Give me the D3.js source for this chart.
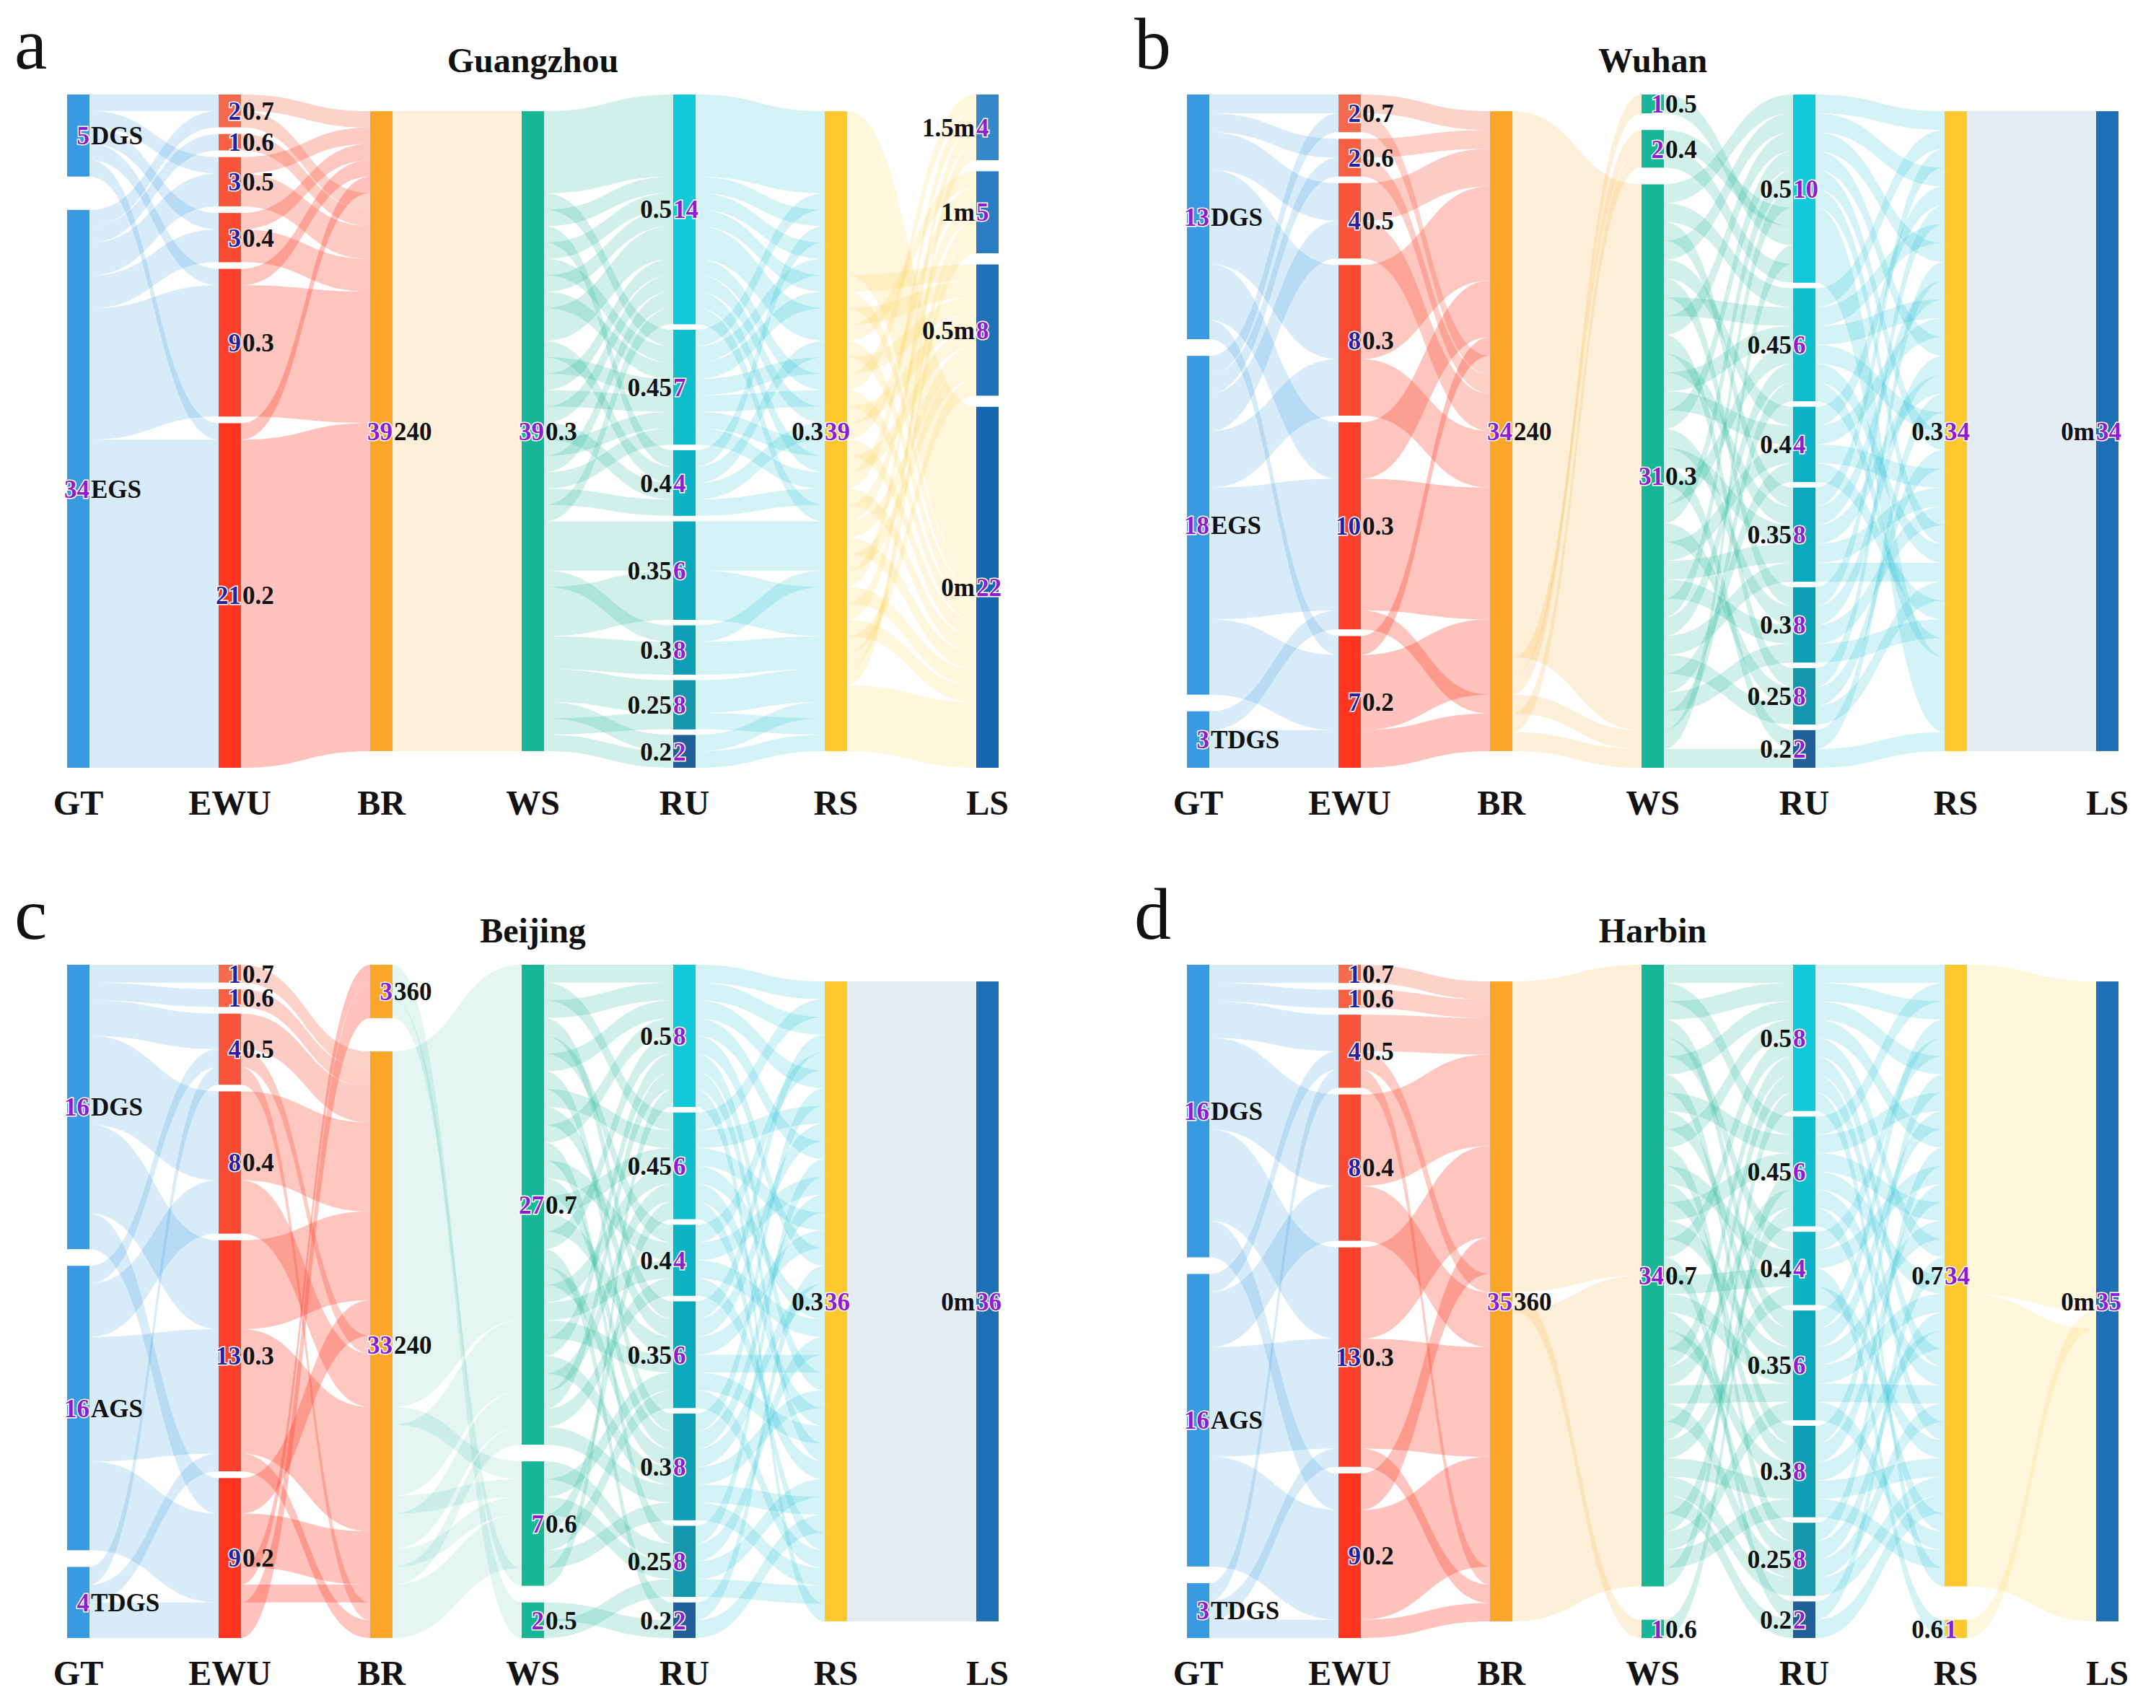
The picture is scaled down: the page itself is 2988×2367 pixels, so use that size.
<!DOCTYPE html>
<html>
<head>
<meta charset="utf-8">
<script src="https://cdn.jsdelivr.net/npm/d3@7"></script>
<style>
  html, body { margin: 0; background: #fff; }
  svg { display: block; }
</style>
</head>
<body>
<div id="chart"></div>
<script>
// Column headers shared by all four panels
const columns = ["GT", "EWU", "BR", "WS", "RU", "RS", "LS"];
const ruNames = ["0.5", "0.45", "0.4", "0.35", "0.3", "0.25", "0.2"];

// ---- a: Guangzhou (39 samples) ----
const gzNodes = [["DGS", "EGS"], ["0.7", "0.6", "0.5", "0.4", "0.3", "0.2"], ["240"], ["0.3"], ruNames, ["0.3"], ["1.5m", "1m", "0.5m", "0m"]];
const gzShown = [[5, 34], [2, 1, 3, 3, 9, 21], [39], [39], [14, 7, 4, 6, 8, 8, 2], [39], [4, 5, 8, 22]];
// per-sample node index in each column (null = single node)
const gzGT  = [0,0,0,0,0, 1,1,1,1,1, 1,1,1,1,1, 1,1,1,1,1, 1,1,1,1,1, 1,1,1,1,1, 1,1,1,1,1, 1,1,1,1];
const gzEWU = [0,2,3,4,5, 0,1,2,2,3, 3,4,4,4,4, 4,4,4,4,5, 5,5,5,5,5, 5,5,5,5,5, 5,5,5,5,5, 5,5,5,5];
const gzRU  = [0,0,0,0,0, 1,0,2,0,1, 0,1,0,0,2, 1,0,1,0,2, 1,0,1,2,0, 3,3,3,4,3, 3,3,4,4,5, 5,6,5,6];
const gzLS  = [3,3,3,3,3, 3,3,3,3,3, 2,3,2,1,3, 2,0,3,2,1, 3,2,0,3,1, 2,3,2,0,3, 1,3,2,1,0, 3,3,3,3];

// ---- b: Wuhan (34 samples) ----
const whNodes = [["DGS", "EGS", "TDGS"], ["0.7", "0.6", "0.5", "0.3", "0.3", "0.2"], ["240"], ["0.5", "0.4", "0.3"], ruNames, ["0.3"], ["0m"]];
const whShown = [[13, 18, 3], [2, 2, 4, 8, 10, 7], [34], [1, 2, 31], [10, 6, 4, 8, 8, 8, 2], [34], [34]];
const whGT  = [0,0,0,0,0, 0,0,0,0,0, 0,0,0,1,1, 1,1,1,1,1, 1,1,1,1,1, 1,1,1,1,1, 1,2,2,2];
const whEWU = [0,1,2,2,3, 3,3,3,3,4, 4,4,5,0,1, 2,2,3,3,3, 4,4,4,4,4, 4,4,5,5,5, 5,4,5,5];
const whWS  = [2,2,2,2,2, 2,2,2,2,2, 2,2,2,2,2, 2,2,2,2,2, 2,2,2,2,2, 2,2,2,2,1, 0,2,1,2];
const whRU  = [0,1,3,0,2, 4,1,0,5,3, 1,2,0,4,3, 6,1,0,5,2, 3,4,0,1,3, 5,2,4,1,0, 0,0,0,6];

// ---- c: Beijing (36 samples) ----
const bjNodes = [["DGS", "AGS", "TDGS"], ["0.7", "0.6", "0.5", "0.4", "0.3", "0.2"], ["360", "240"], ["0.7", "0.6", "0.5"], ruNames, ["0.3"], ["0m"]];
const bjShown = [[16, 16, 4], [1, 1, 4, 8, 13, 9], [3, 33], [27, 7, 2], [8, 6, 4, 6, 8, 8, 2], [36], [36]];
const bjGT  = [0,0,0,0,0, 0,0,0,0,0, 0,0,0,0,0, 0,1,1,1,1, 1,1,1,1,1, 1,1,1,1,1, 1,1,2,2,2, 2];
const bjEWU = [0,1,2,2,3, 3,3,3,3,4, 4,4,4,4,5, 5,2,3,3,3, 4,4,4,4,4, 4,4,5,5,5, 5,5,2,4,5, 5];
const bjBR  = [1,1,1,1,1, 1,1,1,1,1, 1,1,1,1,1, 1,1,1,1,1, 1,1,1,1,1, 1,1,1,1,1, 0,1,1,1,0, 0];
const bjWS  = [0,0,0,0,0, 0,0,0,0,0, 0,0,0,0,0, 0,0,0,0,0, 1,0,0,0,0, 1,0,0,1,0, 2,1,1,1,2, 1];
const bjRU  = [0,1,0,3,2, 0,4,1,3,0, 5,2,4,1,3, 0,6,4,1,2, 5,3,0,4,1, 3,0,2,5,4, 6,1,3,4,5, 0];

// ---- d: Harbin (35 samples) ----
const hbNodes = [["DGS", "AGS", "TDGS"], ["0.7", "0.6", "0.5", "0.4", "0.3", "0.2"], ["360"], ["0.7", "0.6"], ruNames, ["0.7", "0.6"], ["0m"]];
const hbShown = [[16, 16, 3], [1, 1, 4, 8, 13, 9], [35], [34, 1], [8, 6, 4, 6, 8, 8, 2], [34, 1], [35]];
const hbGT  = [0,0,0,0,0, 0,0,0,0,0, 0,0,0,0,0, 0,1,1,1,1, 1,1,1,1,1, 1,1,1,1,1, 1,1,2,2,2];
const hbEWU = [0,1,2,2,3, 3,3,3,3,4, 4,4,4,4,5, 5,2,3,3,3, 4,4,4,4,4, 4,5,5,5,5, 5,5,2,4,5];
const hbWS  = [0,0,0,0,0, 0,0,0,0,0, 0,0,0,0,0, 0,0,1,0,0, 0,0,0,0,0, 0,0,0,0,0, 0,0,0,0,0];
const hbRU  = [0,1,0,3,2, 0,4,1,3,0, 5,2,4,1,3, 0,6,1,2,3, 5,4,0,1,3, 5,0,2,4,5, 6,1,3,4,0];
const hbRS  = [0,0,0,0,0, 0,0,0,0,0, 0,0,0,0,0, 0,0,0,1,0, 0,0,0,0,0, 0,0,0,0,0, 0,0,0,0,0];

const panels = [
  { letter: "a", title: "Guangzhou", nodes: gzNodes, shown: gzShown, samples: [gzGT, gzEWU, null, null, gzRU, null, gzLS], linkMode: "ssssss", col: 0, row: 0 },
  { letter: "b", title: "Wuhan",     nodes: whNodes, shown: whShown, samples: [whGT, whEWU, null, whWS, whRU, null, null],  linkMode: "ssssst", col: 1, row: 0 },
  { letter: "c", title: "Beijing",   nodes: bjNodes, shown: bjShown, samples: [bjGT, bjEWU, bjBR, bjWS, bjRU, null, null],  linkMode: "sstsst", col: 0, row: 1 },
  { letter: "d", title: "Harbin",    nodes: hbNodes, shown: hbShown, samples: [hbGT, hbEWU, null, hbWS, hbRU, hbRS, null],  linkMode: "ssssss", col: 1, row: 1 }
];

// ---- layout constants ----
const W = 2988, H = 2367;
const panelDX = 1552, panelDY = 1206;
const plotLeft = 93, plotTop = 131, plotH = 933;
const colStep = 210, barW = 31, minGap = 7.7;
const serif = "'Liberation Serif', 'Times New Roman', serif";
const linkOpacity = [0.2, 0.3, 0.18, 0.2, 0.19, 0.17];
const ruColors = ["#13c8d8", "#0fbdcc", "#0cb3c6", "#0ba9be", "#0e9fb6", "#1596ae", "#215f98"];

function nodeColor(ci, k, count) {
  const t = count > 1 ? k / (count - 1) : 1;
  switch (columns[ci]) {
    case "GT": return "#379ae2";
    case "EWU": return d3.interpolateRgb("#f56a4c", "#ff3520")(t);
    case "BR": return "#fca629";
    case "WS": return "#17b697";
    case "RU": return count === 7 ? ruColors[k] : "#0fb6c8";
    case "RS": return "#fec82e";
    case "LS": return count > 1 ? d3.interpolateRgb("#3488ca", "#1566b1")(t) : "#1f6fb7";
  }
}

// links leaving the RU column are all drawn in cyan
function linkColor(node, ci) {
  return columns[ci] === "RU" ? "#1cc0d2" : node.color;
}

const svg = d3.select("#chart").append("svg")
  .attr("width", W).attr("height", H)
  .attr("viewBox", `0 0 ${W} ${H}`);
svg.append("rect").attr("width", W).attr("height", H).attr("fill", "#fff");

panels.forEach(p => drawPanel(p));

function drawPanel(p) {
  const ox = p.col * panelDX, oy = p.row * panelDY;
  const left = plotLeft + ox, top = plotTop + oy;
  const n = p.samples[0].length;
  const ky = (plotH - 6 * minGap) / n;

  const x = d3.scalePoint().domain(columns).range([left, left + 6 * colStep]);
  const y = d3.scaleLinear().domain([0, n]).range([0, n * ky]);

  // build nodes per column, members stacked in sample order
  const cols = columns.map((c, ci) => {
    const assign = p.samples[ci] || d3.range(n).map(() => 0);
    const nodes = p.nodes[ci].map((name, k) => ({
      name, k, shown: p.shown[ci][k], members: [],
      color: nodeColor(ci, k, p.nodes[ci].length)
    }));
    assign.forEach((k, i) => nodes[k].members.push(i));
    const spare = plotH - y(n);
    const gap = nodes.length > 1 ? spare / (nodes.length - 1) : 0;
    let y0 = nodes.length > 1 ? top : top + spare / 2;
    nodes.forEach(nd => {
      nd.x0 = x(c);
      nd.x1 = nd.x0 + barW;
      nd.y0 = y0;
      nd.y1 = y0 + y(nd.members.length);
      y0 = nd.y1 + gap;
    });
    const where = assign.map((k, i) => ({ node: nodes[k], rank: nodes[k].members.indexOf(i) }));
    return { name: c, nodes, where };
  });

  // links: one thread per sample, consecutive threads merged into bands
  const links = [];
  for (let ci = 0; ci < columns.length - 1; ci++) {
    const a = cols[ci], b = cols[ci + 1];
    a.nodes.forEach(nd => {
      let run = null;
      nd.members.forEach((i, r) => {
        const t = b.where[i];
        if (run && run.target === t.node && t.rank === run.tr1) {
          run.sr1 = r + 1;
          run.tr1 = t.rank + 1;
        } else {
          run = { ci, source: nd, target: t.node, sr0: r, sr1: r + 1, tr0: t.rank, tr1: t.rank + 1 };
          links.push(run);
        }
      });
    });
  }

  const g = svg.append("g");

  const linkG = g.append("g");
  links.forEach(l => {
    const x0 = l.source.x1, x1 = l.target.x0, xm = (x0 + x1) / 2;
    const s0 = l.source.y0 + y(l.sr0), s1 = l.source.y0 + y(l.sr1);
    const t0 = l.target.y0 + y(l.tr0), t1 = l.target.y0 + y(l.tr1);
    const path = d3.path();
    path.moveTo(x0, s0);
    path.bezierCurveTo(xm, s0, xm, t0, x1, t0);
    path.lineTo(x1, t1);
    path.bezierCurveTo(xm, t1, xm, s1, x0, s1);
    path.closePath();
    const byTarget = p.linkMode[l.ci] === "t";
    linkG.append("path")
      .attr("d", path.toString())
      .attr("fill", byTarget ? l.target.color : linkColor(l.source, l.ci))
      .attr("fill-opacity", byTarget ? 0.12 : linkOpacity[l.ci]);
  });

  // node bars
  cols.forEach(col => {
    col.nodes.forEach(nd => {
      g.append("rect")
        .attr("x", nd.x0).attr("y", nd.y0)
        .attr("width", barW).attr("height", Math.max(0, nd.y1 - nd.y0))
        .attr("fill", nd.color);
    });
  });

  // node labels: count on the bar, name beside it
  cols.forEach((col, ci) => {
    const rightSide = ci < 4;
    col.nodes.forEach(nd => {
      const cy = (nd.y0 + nd.y1) / 2;
      g.append("text")
        .attr("x", rightSide ? nd.x1 : nd.x0)
        .attr("y", cy).attr("dy", "0.35em")
        .attr("text-anchor", rightSide ? "end" : "start")
        .attr("font-family", serif).attr("font-weight", "bold").attr("font-size", 35)
        .attr("fill", col.name === "EWU" ? "#2c1f9e" : "#8d1dd1")
        .attr("stroke", "#fff").attr("stroke-width", 3).attr("paint-order", "stroke")
        .text(nd.shown);
      g.append("text")
        .attr("x", rightSide ? nd.x1 + 2 : nd.x0 - 2)
        .attr("y", cy).attr("dy", "0.35em")
        .attr("text-anchor", rightSide ? "start" : "end")
        .attr("font-family", serif).attr("font-weight", "bold").attr("font-size", 35)
        .attr("fill", "#111")
        .text(nd.name);
    });
  });

  // column headers
  columns.forEach(c => {
    g.append("text")
      .attr("x", x(c) + barW / 2)
      .attr("y", top + plotH + 48).attr("dy", "0.35em")
      .attr("text-anchor", "middle")
      .attr("font-family", serif).attr("font-weight", "bold").attr("font-size", 48)
      .attr("fill", "#111")
      .text(c);
  });

  // title and panel letter
  g.append("text")
    .attr("x", x("WS") + barW / 2).attr("y", top - 31)
    .attr("text-anchor", "middle")
    .attr("font-family", serif).attr("font-weight", "bold").attr("font-size", 48)
    .attr("fill", "#111")
    .text(p.title);
  g.append("text")
    .attr("x", ox + 20).attr("y", oy + 95)
    .attr("font-family", serif).attr("font-size", 102)
    .attr("fill", "#111")
    .text(p.letter);
}
</script>
</body>
</html>
